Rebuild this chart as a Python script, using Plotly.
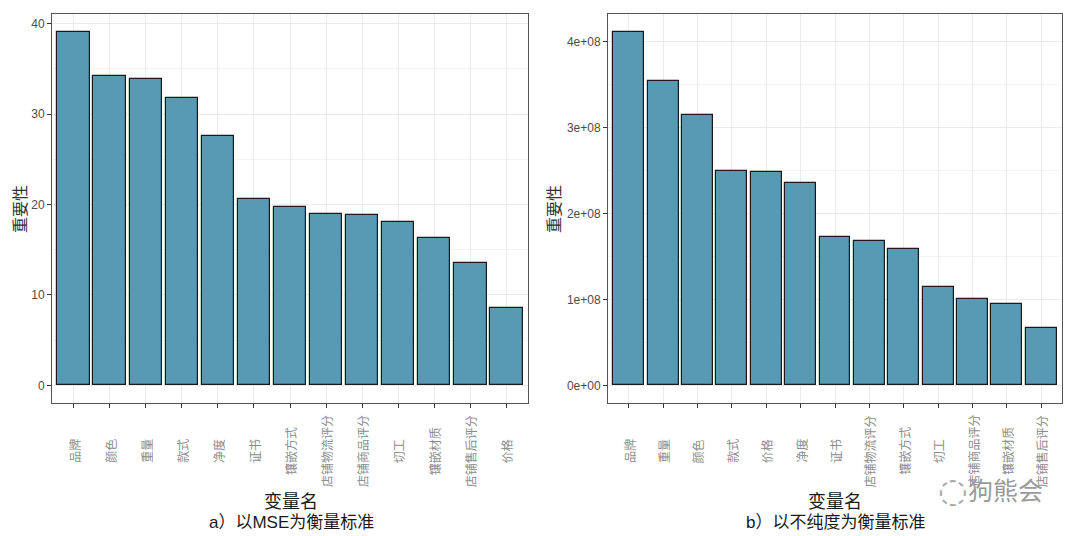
import plotly.graph_objects as go

# a) MSE based importance
vars_mse = ["品牌", "颜色", "重量", "款式", "净度", "证书", "镶嵌方式",
            "店铺物流评分", "店铺商品评分", "切工", "镶嵌材质", "店铺售后评分", "价格"]
imp_mse = [39.1, 34.2, 33.85, 31.75, 27.6, 20.6, 19.7, 18.98, 18.83, 18.05, 16.3, 13.5, 8.6]

# b) impurity based importance
vars_imp = ["品牌", "重量", "颜色", "款式", "价格", "净度", "证书",
            "店铺物流评分", "镶嵌方式", "切工", "店铺商品评分", "镶嵌材质", "店铺售后评分"]
imp_imp = [4.117e8, 3.538e8, 3.15e8, 2.497e8, 2.489e8, 2.35e8, 1.728e8,
           1.685e8, 1.584e8, 1.146e8, 1.006e8, 0.951e8, 0.664e8]

yticks_mse = [0, 10, 20, 30, 40]
yticks_imp = [0, 1e8, 2e8, 3e8, 4e8]
yticklabels_imp = ["0e+00", "1e+08", "2e+08", "3e+08", "4e+08"]

bar_fill = "#5899b4"
grid = "#ebebeb"
cjk = "Noto Sans CJK SC"

# page body margin shifts the plot, so positions below are in screen px minus this
OFF = 7
W, H = 1080, 536


def px(x):
    return (x - OFF) / W


def py(y):
    return 1 - (y - OFF) / H


fig = go.Figure()
fig.add_trace(go.Bar(x=vars_mse, y=imp_mse, width=0.9,
                     marker=dict(color=bar_fill, line=dict(color="#1a1a1a", width=1.2)),
                     xaxis="x", yaxis="y"))
fig.add_trace(go.Bar(x=vars_imp, y=imp_imp, width=0.9,
                     marker=dict(color=bar_fill, line=dict(color="#1a1a1a", width=1.2)),
                     xaxis="x2", yaxis="y2"))


def xax(domain, anchor):
    return dict(domain=domain, anchor=anchor, type="category", range=[-0.6, 12.6],
                automargin=False, showticklabels=False,
                showgrid=True, gridcolor=grid, gridwidth=1,
                showline=True, linecolor="#555555", linewidth=1, mirror=True,
                ticks="outside", ticklen=4, tickcolor="#333333",
                zeroline=False)


def yax(domain, anchor, rng, tv, tt):
    minor_vals = [(tv[i] + tv[i + 1]) / 2 for i in range(len(tv) - 1)] + [tv[-1] + (tv[1] - tv[0]) / 2]
    return dict(domain=domain, anchor=anchor, range=rng, automargin=False,
                tickvals=tv, ticktext=tt,
                showgrid=True, gridcolor=grid, gridwidth=1,
                minor=dict(tickvals=minor_vals, showgrid=True, gridcolor="#f4f4f4", gridwidth=0.6, ticks=""),
                showline=True, linecolor="#555555", linewidth=1, mirror=True,
                ticks="outside", ticklen=4, tickcolor="#333333",
                tickfont=dict(family="Liberation Sans", size=12, color="#4d4d4d"),
                zeroline=False)


fig.update_layout(
    width=W, height=H,
    margin=dict(l=0, r=0, t=0, b=0),
    paper_bgcolor="white", plot_bgcolor="white",
    showlegend=False, bargap=0,
    xaxis=xax([px(51), px(527)], "y"),
    yaxis=yax([py(402), py(13)], "x", [-1.955, 41.06], yticks_mse, [str(v) for v in yticks_mse]),
    xaxis2=xax([px(607), px(1061)], "y2"),
    yaxis2=yax([py(402), py(13)], "x2", [-0.206e8, 4.323e8], yticks_imp, yticklabels_imp),
)

# rotated category labels, centred below each axis (ggplot angle=90, hjust=0.5)
for xr, names in [("x", vars_mse), ("x2", vars_imp)]:
    for n in names:
        fig.add_annotation(x=n, y=py(450), xref=xr, yref="paper", text=n, textangle=-90,
                           xanchor="center", yanchor="middle",
                           showarrow=False, font=dict(family=cjk, size=12, color="#8c8c8c"))

# y titles
for tx in [18, 552]:
    fig.add_annotation(x=px(tx), y=py(208), xref="paper", yref="paper", text="重要性",
                       textangle=-90, xanchor="center", yanchor="middle",
                       showarrow=False, font=dict(family=cjk, size=16, color="#333333"))

cap = dict(family="Liberation Sans, Noto Sans CJK SC", size=17, color="#1a1a1a")
for cx, sub in [(290, "a）以MSE为衡量标准"), (834, "b）以不纯度为衡量标准")]:
    fig.add_annotation(x=px(cx), y=py(499), xref="paper", yref="paper", text="变量名",
                       xanchor="center", yanchor="middle",
                       showarrow=False, font=dict(family=cjk, size=18, color="#1a1a1a"))
    fig.add_annotation(x=px(cx), y=py(521), xref="paper", yref="paper", text=sub,
                       xanchor="center", yanchor="middle",
                       showarrow=False, font=cap)

# watermark
fig.add_annotation(x=px(1004), y=py(488), xref="paper", yref="paper", text="狗熊会",
                   xanchor="center", yanchor="middle",
                   showarrow=False, font=dict(family=cjk, size=25, color="#9a9a9a"))
fig.add_annotation(x=px(952), y=py(489), xref="paper", yref="paper", text="◌",
                   xanchor="center", yanchor="middle",
                   showarrow=False, font=dict(family="DejaVu Sans", size=34, color="#a8a8a8"))

fig.write_html("out.html")
